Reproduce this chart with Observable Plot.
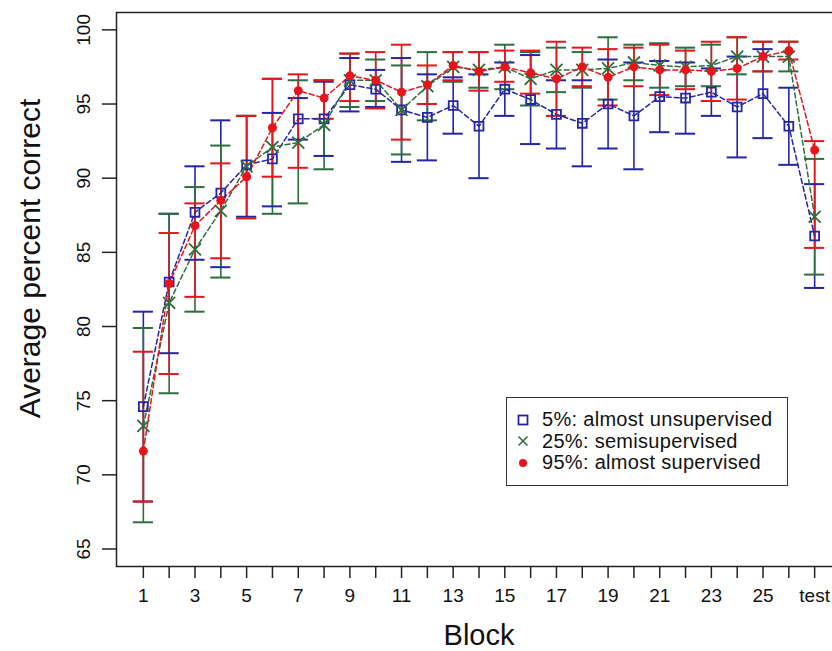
<!DOCTYPE html>
<html>
<head>
<meta charset="utf-8">
<script src="https://cdn.jsdelivr.net/npm/d3@7"></script>
<script src="https://cdn.jsdelivr.net/npm/@observablehq/plot@0.6"></script>
<style>
  html, body { margin: 0; padding: 0; background: #fff; }
  #wrap { position: relative; width: 832px; height: 651px; overflow: hidden; font-family: "Liberation Sans", Arial, sans-serif; }
  #legend { position: absolute; left: 506px; top: 397px; width: 282px; height: 89px; border: 1.5px solid #333; background: #fff; box-sizing: border-box; padding-top: 11px; }
  .item { display: flex; align-items: center; height: 21.5px; font-size: 20px; letter-spacing: 0.3px; color: #111; white-space: nowrap; }
  .item svg { margin-left: 10px; margin-right: 13px; }
</style>
</head>
<body>
<div id="wrap"></div>
<script>
const blockLabels = ["1","2","3","4","5","6","7","8","9","10","11","12","13","14","15","16","17","18","19","20","21","22","23","24","25","26","test"];
const seriesNames = ["5%: almost unsupervised", "25%: semisupervised", "95%: almost supervised"];
const seriesColors = ["#2424a8", "#2c6e3c", "#e8141c"];

const blueMean = [74.6, 83.0, 87.7, 89.0, 90.9, 91.3, 94.0, 94.0, 96.3, 96.0, 94.6, 94.1, 94.9, 93.5, 96.0, 95.3, 94.3, 93.7, 95.0, 94.2, 95.5, 95.4, 95.8, 94.8, 95.7, 93.5, 86.1];
const blueLo   = [68.2, 78.2, 84.5, 84.0, 87.4, 88.1, 92.6, 91.5, 94.5, 94.8, 91.1, 91.2, 93.0, 90.0, 94.2, 92.3, 92.0, 90.8, 92.0, 90.6, 93.1, 93.0, 94.2, 91.4, 92.7, 90.9, 82.6];
const blueHi   = [81.0, 87.6, 90.8, 93.9, 94.2, 94.4, 95.4, 96.5, 98.1, 97.3, 98.1, 97.0, 96.8, 97.0, 97.8, 98.3, 96.6, 96.6, 98.0, 97.8, 97.9, 97.8, 97.4, 98.2, 98.7, 96.1, 89.6];

const greenMean = [73.3, 81.6, 85.2, 87.8, 90.8, 92.1, 92.4, 93.6, 96.6, 96.6, 94.6, 96.2, 97.5, 97.3, 97.5, 96.7, 97.3, 97.3, 97.4, 97.8, 97.6, 97.5, 97.6, 98.2, 98.2, 98.2, 87.4];
const greenLo   = [66.8, 75.5, 81.0, 83.3, 87.3, 87.6, 88.3, 90.6, 94.8, 95.2, 91.6, 93.9, 96.5, 96.1, 96.0, 94.9, 95.8, 96.1, 95.3, 96.6, 96.1, 96.2, 96.2, 97.0, 97.2, 97.2, 83.5];
const greenHi   = [79.9, 87.6, 89.4, 92.2, 94.2, 96.7, 96.6, 96.6, 98.4, 98.0, 97.6, 98.5, 98.5, 98.5, 99.0, 98.5, 98.8, 98.5, 99.5, 99.0, 99.1, 98.8, 99.0, 99.5, 99.2, 99.2, 91.3];

const redMean = [71.6, 82.9, 86.8, 88.5, 90.1, 93.4, 95.9, 95.4, 96.9, 96.6, 95.8, 96.3, 97.6, 97.2, 97.5, 97.1, 96.7, 97.5, 96.8, 97.5, 97.3, 97.3, 97.2, 97.4, 98.2, 98.6, 91.9];
const redLo   = [68.2, 76.8, 82.0, 84.6, 87.3, 90.1, 90.7, 94.0, 95.2, 94.7, 92.6, 95.0, 96.6, 95.9, 96.5, 95.7, 94.2, 96.2, 94.9, 96.2, 95.6, 96.0, 95.2, 95.3, 97.2, 98.0, 85.3];
const redHi   = [78.3, 86.3, 88.3, 91.0, 94.2, 96.7, 97.0, 96.6, 98.4, 98.5, 99.0, 97.6, 98.5, 98.5, 98.6, 98.6, 99.2, 98.8, 98.7, 98.8, 99.0, 98.6, 99.2, 99.5, 99.2, 99.2, 92.5];

const yTicks = [65, 70, 75, 80, 85, 90, 95, 100];

const seriesData = [
  [blueMean, blueLo, blueHi],
  [greenMean, greenLo, greenHi],
  [redMean, redLo, redHi]
];
const rows = [];
seriesData.forEach(([m, lo, hi], s) => {
  m.forEach((v, i) => rows.push({block: i + 1, label: blockLabels[i], mean: v, lo: lo[i], hi: hi[i], series: seriesNames[s]}));
});
const capHalf = 0.39;
const n = blockLabels.length;

const chart = Plot.plot({
  width: 832,
  height: 651,
  marginLeft: 116,
  marginRight: -9,
  marginTop: 12,
  marginBottom: 85,
  style: {fontFamily: "'Liberation Sans', Arial, sans-serif", background: "#fff", color: "#111"},
  x: {domain: [1 - 0.04 * (n - 1), n + 0.04 * (n - 1)]},
  y: {domain: [63.82, 101.17]},
  color: {domain: seriesNames, range: seriesColors},
  marks: [
    Plot.axisX({ticks: d3.range(1, n + 1), tickSize: 12, tickPadding: 10, fontSize: 19, stroke: "#222", strokeWidth: 1.5,
      tickFormat: d => d === n ? "test" : (d % 2 === 1 ? blockLabels[d - 1] : ""), label: null}),
    Plot.axisY({ticks: yTicks, tickSize: 14, tickFormat: () => "", stroke: "#222", strokeWidth: 1.5, label: null}),
    Plot.text(yTicks, {y: d => d, text: d => String(d), frameAnchor: "left", dx: -33, rotate: -90, fontSize: 19, textAnchor: "middle", lineAnchor: "middle", fill: "#111"}),
    Plot.ruleX(rows, {x: "block", y1: "lo", y2: "hi", stroke: "series", strokeWidth: 1.6}),
    Plot.ruleY(rows, {y: "lo", x1: d => d.block - capHalf, x2: d => d.block + capHalf, stroke: "series", strokeWidth: 2}),
    Plot.ruleY(rows, {y: "hi", x1: d => d.block - capHalf, x2: d => d.block + capHalf, stroke: "series", strokeWidth: 2}),
    Plot.line(rows, {x: "block", y: "mean", z: "series", stroke: "series", strokeWidth: 1.5, strokeDasharray: "5,3"}),
    Plot.dot(rows.filter(d => d.series === seriesNames[0]), {x: "block", y: "mean", symbol: "square", r: 5, stroke: seriesColors[0], strokeWidth: 1.8, fill: "none"}),
    Plot.dot(rows.filter(d => d.series === seriesNames[1]), {x: "block", y: "mean", symbol: "times", r: 5.5, stroke: seriesColors[1], strokeWidth: 1.8}),
    Plot.dot(rows.filter(d => d.series === seriesNames[2]), {x: "block", y: "mean", r: 4.5, fill: seriesColors[2], stroke: "none"}),
    Plot.frame({stroke: "#222", strokeWidth: 1.5}),
    Plot.text(["Average percent correct"], {frameAnchor: "left", dx: -86, dy: -31, rotate: -90, fontSize: 30, textAnchor: "middle", lineAnchor: "middle", fill: "#111"}),
    Plot.text(["Block"], {frameAnchor: "bottom", dy: 69, fontSize: 29, textAnchor: "middle", lineAnchor: "middle", fill: "#111"})
  ]
});

const wrap = document.getElementById("wrap");
wrap.appendChild(chart);

const legend = document.createElement("div");
legend.id = "legend";
const symbols = [
  `<svg width="12" height="12"><rect x="1.5" y="1.5" width="9" height="9" fill="none" stroke="${seriesColors[0]}" stroke-width="1.8"/></svg>`,
  `<svg width="12" height="12"><path d="M1.5,1.5L10.5,10.5M10.5,1.5L1.5,10.5" stroke="${seriesColors[1]}" stroke-width="1.5"/></svg>`,
  `<svg width="12" height="12"><circle cx="6" cy="6" r="4" fill="${seriesColors[2]}"/></svg>`
];
seriesNames.forEach((name, i) => {
  const item = document.createElement("div");
  item.className = "item";
  item.innerHTML = symbols[i] + `<span>${name}</span>`;
  legend.appendChild(item);
});
wrap.appendChild(legend);
</script>
</body>
</html>
